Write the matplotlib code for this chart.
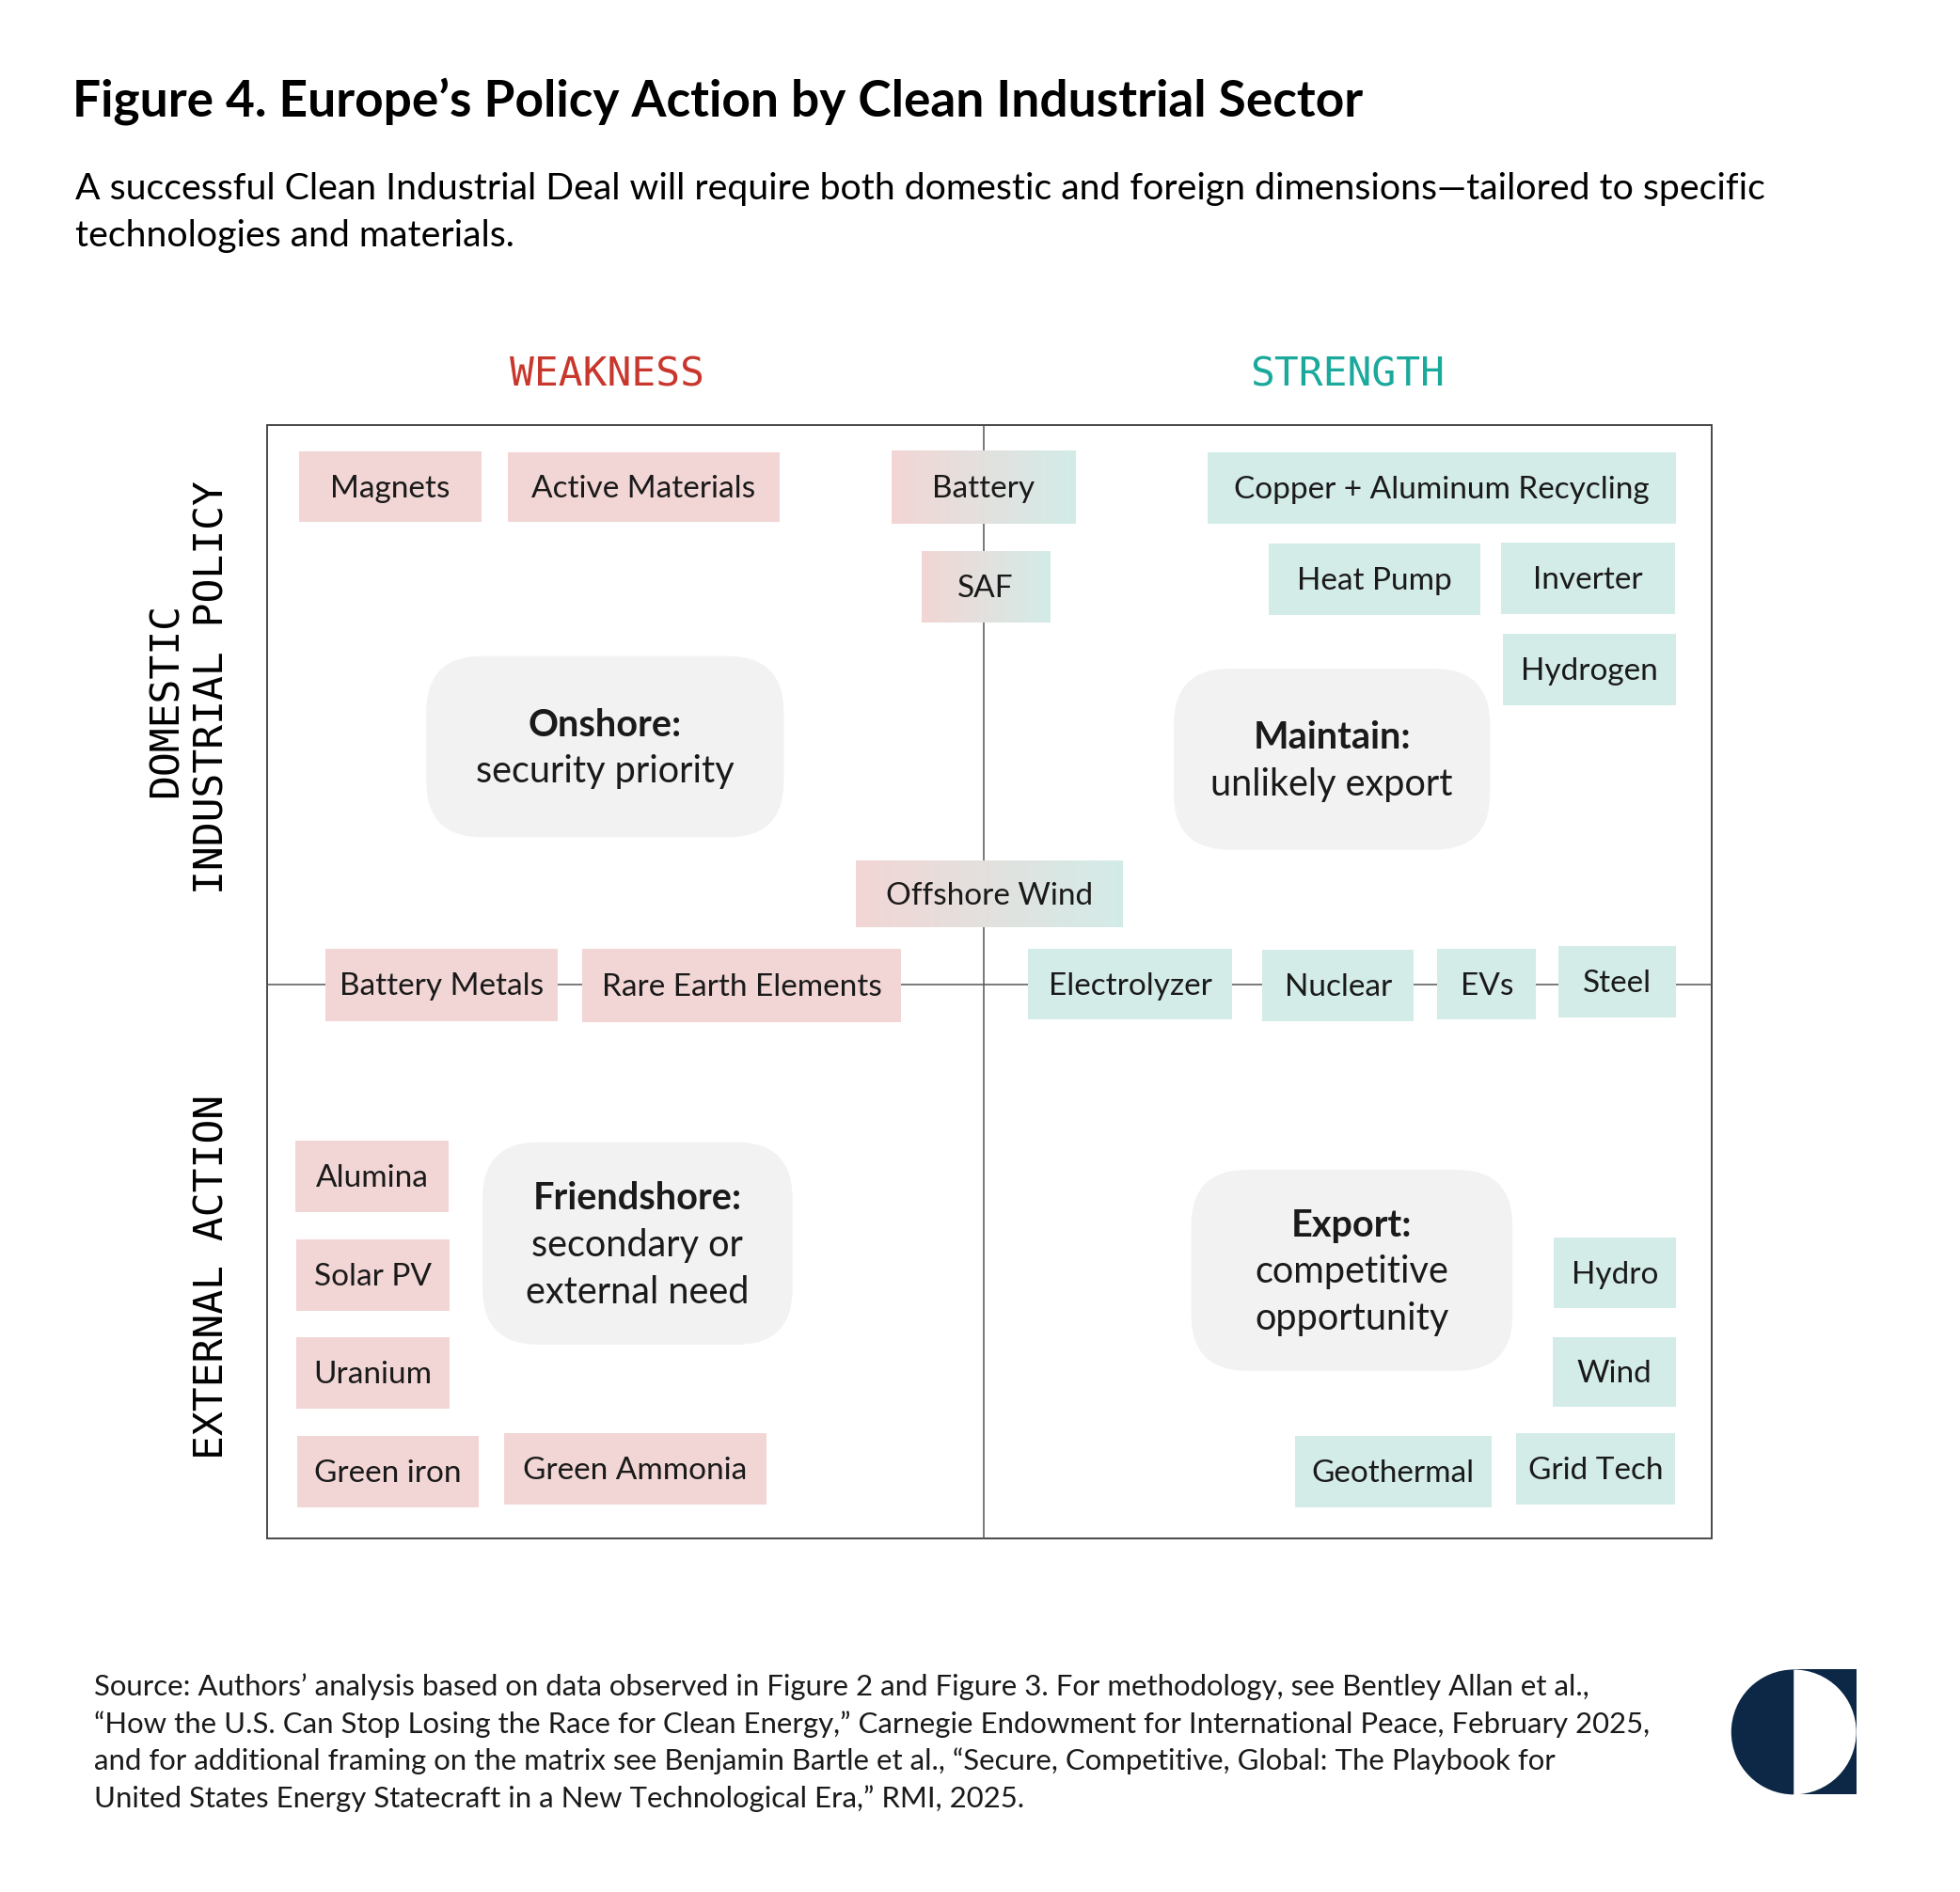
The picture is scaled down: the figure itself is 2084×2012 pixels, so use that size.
import numpy as np
import matplotlib
matplotlib.use('Agg')
import matplotlib.pyplot as plt
from matplotlib.patches import Rectangle, FancyBboxPatch, Wedge
from matplotlib.colors import LinearSegmentedColormap

###############################################################################
# Chart content
###############################################################################
title = "Figure 4. Europe\u2019s Policy Action by Clean Industrial Sector"
subtitle = ["A successful Clean Industrial Deal will require both domestic and foreign dimensions\u2014tailored to specific",
            "technologies and materials."]
col_labels = ["WEAKNESS", "STRENGTH"]
row_labels = [["DOMESTIC", "INDUSTRIAL POLICY"], ["EXTERNAL ACTION"]]

weak_domestic   = ["Magnets", "Active Materials", "Battery Metals", "Rare Earth Elements"]
mixed_domestic  = ["Battery", "SAF", "Offshore Wind"]
strong_domestic = ["Copper + Aluminum Recycling", "Heat Pump", "Inverter", "Hydrogen",
                   "Electrolyzer", "Nuclear", "EVs", "Steel"]
weak_external   = ["Alumina", "Solar PV", "Uranium", "Green iron", "Green Ammonia"]
strong_external = ["Hydro", "Wind", "Geothermal", "Grid Tech"]

strategies = [("Onshore:", ["security priority"]),
              ("Maintain:", ["unlikely export"]),
              ("Friendshore:", ["secondary or", "external need"]),
              ("Export:", ["competitive", "opportunity"])]

source = ["Source: Authors\u2019 analysis based on data observed in Figure 2 and Figure 3. For methodology, see Bentley Allan et al.,",
          "\u201cHow the U.S. Can Stop Losing the Race for Clean Energy,\u201d Carnegie Endowment for International Peace, February 2025,",
          "and for additional framing on the matrix see Benjamin Bartle et al., \u201cSecure, Competitive, Global: The Playbook for",
          "United States Energy Statecraft in a New Technological Era,\u201d RMI, 2025."]

###############################################################################
# Layout (canvas units, y downwards)
###############################################################################
box_pos = {
    "Magnets": (239, 361, 385, 418),
    "Active Materials": (406, 362, 624, 418),
    "Battery Metals": (260, 759, 446, 817),
    "Rare Earth Elements": (466, 759, 721, 818),
    "Battery": (713, 361, 860, 419),
    "SAF": (737, 441, 840, 498),
    "Offshore Wind": (685, 689, 898, 742),
    "Copper + Aluminum Recycling": (966, 362, 1341, 419),
    "Heat Pump": (1015, 435, 1184, 492),
    "Inverter": (1201, 434, 1340, 491),
    "Hydrogen": (1202, 507, 1341, 564),
    "Electrolyzer": (822, 759, 986, 816),
    "Nuclear": (1010, 760, 1131, 817),
    "EVs": (1150, 759, 1229, 816),
    "Steel": (1247, 757, 1341, 814),
    "Alumina": (236, 913, 359, 970),
    "Solar PV": (237, 992, 360, 1049),
    "Uranium": (237, 1070, 360, 1127),
    "Green iron": (238, 1149, 383, 1206),
    "Green Ammonia": (403, 1147, 613, 1204),
    "Hydro": (1243, 990, 1341, 1047),
    "Wind": (1242, 1070, 1341, 1126),
    "Geothermal": (1036, 1149, 1193, 1206),
    "Grid Tech": (1213, 1147, 1340, 1204),
}
strategy_pos = [(341, 525, 627, 670), (939, 535, 1192, 680),
                (386, 914, 634, 1076), (953, 936, 1210, 1097)]

W, H = 1568, 1514
frame = (214, 340, 1369, 1231)
mid_x, mid_y = 787, 788

PINK = '#f2d6d5'
TEAL = '#d3ece8'
GREY = '#f2f2f2'
RED = '#c8372d'
GREEN = '#1ba99c'
NAVY = '#0c2846'
SANS = ['Lato', 'DejaVu Sans']
MONO = 'DejaVu Sans Mono'

fig = plt.figure(figsize=(20.84, 20.12), dpi=100)
ax = fig.add_axes([0, 0, 1, 1])
ax.set_xlim(0, W)
ax.set_ylim(H, 0)
ax.axis('off')

# frame and axes lines
x0, y0, x1, y1 = frame
ax.add_patch(Rectangle((x0, y0), x1 - x0, y1 - y0, fill=False, ec='#3a3a3a', lw=1.3, zorder=1))
ax.plot([mid_x, mid_x], [y0, y1], color='#555555', lw=1.1, zorder=1)
ax.plot([x0, x1], [mid_y, mid_y], color='#555555', lw=1.1, zorder=1)

# quadrant boxes
grad = LinearSegmentedColormap.from_list('pt', [PINK, TEAL])
def draw_box(label, color):
    bx0, by0, bx1, by1 = box_pos[label]
    if color == 'grad':
        ax.imshow(np.linspace(0, 1, 256)[None, :], cmap=grad, aspect='auto',
                  extent=(bx0, bx1, by1, by0), zorder=2, interpolation='bilinear')
    else:
        ax.add_patch(Rectangle((bx0, by0), bx1 - bx0, by1 - by0, fc=color, ec='none', zorder=2))
    ax.text((bx0 + bx1) / 2, (by0 + by1) / 2 + 1.5, label, ha='center', va='center',
            fontsize=24, family=SANS, color='#1a1a1a', zorder=3)

for lab in weak_domestic + weak_external:
    draw_box(lab, PINK)
for lab in strong_domestic + strong_external:
    draw_box(lab, TEAL)
for lab in mixed_domestic:
    draw_box(lab, 'grad')

# strategy bubbles
for (head, lines), (sx0, sy0, sx1, sy1) in zip(strategies, strategy_pos):
    ax.add_patch(FancyBboxPatch((sx0, sy0), sx1 - sx0, sy1 - sy0,
                                boxstyle='round,pad=0,rounding_size=45',
                                fc=GREY, ec='none', zorder=2))
    cx = (sx0 + sx1) / 2
    n = len(lines) + 1
    cy = (sy0 + sy1) / 2 + 1.5
    ys = cy + (np.arange(n) - (n - 1) / 2) * 37.5
    ax.text(cx, ys[0], head, ha='center', va='center', fontsize=28.5,
            fontweight='bold', family=SANS, color='#1a1a1a', zorder=3)
    for yy, ln in zip(ys[1:], lines):
        ax.text(cx, yy, ln, ha='center', va='center', fontsize=28.5,
                family=SANS, color='#1a1a1a', zorder=3)

# column / row headers
ax.text(486, 300, col_labels[0], ha='center', va='center', fontsize=31, family=MONO, color=RED)
ax.text(1078, 300, col_labels[1], ha='center', va='center', fontsize=31, family=MONO, color=GREEN)
ax.text(133, 560, row_labels[0][0], ha='center', va='center', rotation=90, fontsize=31, family=MONO)
ax.text(170, 550, row_labels[0][1], ha='center', va='center', rotation=90, fontsize=31, family=MONO)
ax.text(170, 1022, row_labels[1][0], ha='center', va='center', rotation=90, fontsize=31, family=MONO)

# title, subtitle, source
ax.text(58, 81, title, ha='left', va='center', fontsize=38.3, fontweight='bold', family=SANS)
for i, ln in enumerate(subtitle):
    ax.text(60, 151 + 37.5 * i, ln, ha='left', va='center', fontsize=28.3, family=SANS)
for i, ln in enumerate(source):
    ax.text(75, 1350 + 29.7 * i, ln, ha='left', va='center', fontsize=22.4, family=SANS, color='#1a1a1a')

# logo
lcx, lcy, lr = 1435, 1386, 50
ax.add_patch(Rectangle((lcx, lcy - lr), lr, 2 * lr, fc=NAVY, ec='none'))
ax.add_patch(Wedge((lcx, lcy), lr, 90, 270, fc=NAVY, ec='none'))
ax.add_patch(Wedge((lcx, lcy), lr, 270, 90, fc='white', ec='none'))

fig.savefig('out.png', dpi=100, facecolor='white')
